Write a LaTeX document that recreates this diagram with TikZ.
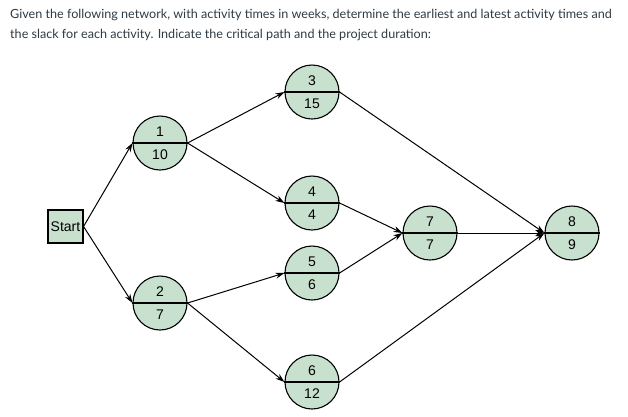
\documentclass[tikz,border=0pt]{standalone}
\usepackage{fontspec}
\setmainfont{Lato}
\newfontfamily\nodefont{Liberation Sans}
\usetikzlibrary{arrows.meta}
\definecolor{nfill}{RGB}{200,224,206}
\definecolor{ttxt}{RGB}{45,59,69}
\begin{document}
\begin{tikzpicture}[x=1pt,y=-1pt,
  ev/.style={circle,draw=black,line width=1.1pt,fill=nfill,minimum size=54pt,inner sep=0pt},
  arr/.style={-{Stealth[length=9pt,width=6pt]},line width=1pt},
  lbl/.style={font=\nodefont\fontsize{14}{14}\selectfont}]
\useasboundingbox (0,0) rectangle (628,416);
\node[anchor=north west,align=left,text=ttxt,font=\fontsize{12.6}{20}\selectfont,inner sep=0pt] (title) at (10,9)
 {Given the following network, with activity times in weeks, determine the earliest and latest activity times and\\
 the slack for each activity. Indicate the critical path and the project duration:};
\node[draw=black,line width=1.1pt,fill=nfill,minimum width=35pt,minimum height=33pt,inner sep=0pt,lbl] (s) at (65.5,226.5) {Start};
\foreach \n/\x/\y/\a/\b in {1/160/143/1/10, 2/160/303/2/7, 3/312/92/3/15, 4/312/203/4/4, 5/312/273/5/6, 6/312/382/6/12, 7/430/233/7/7, 8/572/233/8/9}{
  \node[ev] (n\n) at (\x,\y) {};
  \draw[line width=1.1pt] (n\n.west) -- (n\n.east);
  \node[lbl] at (\x,\y-11) {\a};
  \node[lbl] at (\x,\y+12) {\b};
}
\draw[arr] (s.east) -- (n1.west);
\draw[arr] (s.east) -- (n2.west);
\draw[arr] (n1.east) -- (n3.west);
\draw[arr] (n1.east) -- (n4.west);
\draw[arr] (n2.east) -- (n5.west);
\draw[arr] (n2.east) -- (n6.west);
\draw[arr] (n4.east) -- (n7.west);
\draw[arr] (n5.east) -- (n7.west);
\draw[arr] (n7.east) -- (n8.west);
\draw[arr] (n3.east) -- (n8.west);
\draw[arr] (n6.east) -- (n8.west);
\end{tikzpicture}
\end{document}
